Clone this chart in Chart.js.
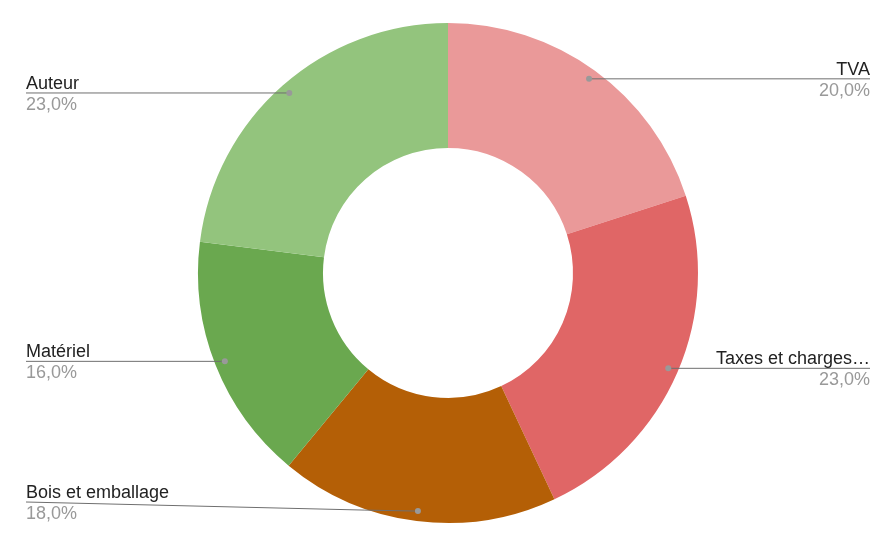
<!DOCTYPE html>
<html>
<head>
<meta charset="utf-8">
<script src="https://cdn.jsdelivr.net/npm/chart.js@4"></script>
<style>
  html, body { margin: 0; padding: 0; background: #fff; }
  #wrap { width: 886px; height: 540px; }
</style>
</head>
<body>
<div id="wrap"><canvas id="myChart"></canvas></div>
<script>
const labels = ['TVA', 'Taxes et charges…', 'Bois et emballage', 'Matériel', 'Auteur'];
const values = [20, 23, 18, 16, 23];
const colors = ['#EA9999', '#E06666', '#B45F06', '#6AA84F', '#93C47D'];

// draws the leader lines with label + percentage at the sides
const sideLabels = {
    id: 'sideLabels',
    afterDraw(chart) {
        const ctx = chart.ctx;
        const meta = chart.getDatasetMeta(0);
        const total = values.reduce((a, b) => a + b, 0);
        const leftX = 26, rightX = 870, maxY = chart.height - 38;
        ctx.save();
        meta.data.forEach((arc, i) => {
            const mid = (arc.startAngle + arc.endAngle) / 2;
            const r = arc.outerRadius - 10;
            const dx = arc.x + Math.cos(mid) * r;
            const dy = arc.y + Math.sin(mid) * r;
            const right = Math.cos(mid) >= 0;
            const ly = Math.min(dy, maxY);
            const lx = right ? rightX : leftX;

            ctx.strokeStyle = '#6f6f6f';
            ctx.lineWidth = 1;
            ctx.beginPath();
            ctx.moveTo(lx, ly);
            if (ly !== dy) {
                // bend before reaching the dot
                ctx.lineTo(dx - 53, dy - 1);
            }
            ctx.lineTo(dx, dy);
            ctx.stroke();

            ctx.fillStyle = '#999';
            ctx.beginPath();
            ctx.arc(dx, dy, 3, 0, Math.PI * 2);
            ctx.fill();

            ctx.font = '18px "Liberation Sans", Arial, sans-serif';
            ctx.textAlign = right ? 'right' : 'left';
            ctx.textBaseline = 'alphabetic';
            ctx.fillStyle = '#222';
            ctx.fillText(labels[i], lx, ly - 4);
            ctx.fillStyle = '#999';
            const pct = (values[i] / total * 100).toFixed(1).replace('.', ',') + '%';
            ctx.fillText(pct, lx, ly + 17);
        });
        ctx.restore();
    }
};

const ctx = document.getElementById('myChart').getContext('2d');
const myChart = new Chart(ctx, {
    type: 'doughnut',
    data: {
        labels: labels,
        datasets: [{
            data: values,
            backgroundColor: colors,
            borderWidth: 0
        }]
    },
    options: {
        responsive: true,
        maintainAspectRatio: false,
        animation: false,
        cutout: '50%',
        layout: {
            padding: { top: 23, bottom: 17, left: 10, right: 0 }
        },
        plugins: {
            legend: { display: false },
            tooltip: { enabled: false }
        }
    },
    plugins: [sideLabels]
});
</script>
</body>
</html>
